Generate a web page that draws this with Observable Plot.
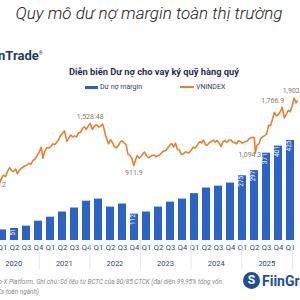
<!DOCTYPE html>
<html>
<head>
<meta charset="utf-8">
<script src="https://cdn.jsdelivr.net/npm/d3@7"></script>
<script src="https://cdn.jsdelivr.net/npm/@observablehq/plot@0.6"></script>
<style>
  html, body { margin: 0; padding: 0; background: #fff; }
  #root { position: relative; width: 300px; height: 300px; overflow: hidden; background: #fff; font-family: Roboto, "Noto Sans", sans-serif; }
  .abs { position: absolute; }
  #title { top: 3px; left: 0; width: 298px; text-align: center; font-style: italic; font-size: 17px; font-weight: 300; color: #1a1a1a; white-space: nowrap; }
  #logo { top: 48px; left: -16px; font-weight: 700; font-size: 13px; color: #1f3a6d; white-space: nowrap; }
  #logo sup { font-size: 5px; font-weight: 400; }
  #sub { top: 66px; left: 0; width: 308px; text-align: center; font-weight: 700; font-size: 9.3px; color: #1f2d5a; white-space: nowrap; }
  .leg { top: 83px; font-size: 7px; color: #2c3e6e; white-space: nowrap; display: flex; align-items: center; }
  .sw-bar { display: inline-block; width: 13px; height: 3px; background: #2b63c6; margin-right: 2px; }
  .sw-line { display: inline-block; width: 14px; height: 1.5px; background: #e8812f; margin-right: 2px; }
  #caption { top: 277px; left: -39px; width: 300px; font-style: italic; font-size: 6.4px; line-height: 10px; color: #8a8a8a; white-space: nowrap; }
  #fg { top: 272px; left: 243px; display: flex; align-items: center; white-space: nowrap; }
  #fg .ic { width: 17px; height: 17px; border-radius: 50%; background: #1d4f9c; color: #fff; font-weight: 700; font-size: 12px; text-align: center; line-height: 17px; margin-right: 2px; }
  #fg .tx { font-weight: 700; font-size: 14px; color: #1d4f9c; }
</style>
</head>
<body>
<div id="root">
  <div id="title" class="abs">Quy mô dư nợ margin toàn thị trường</div>
  <div id="logo" class="abs">FiinTrade<sup>®</sup></div>
  <div id="sub" class="abs">Diễn biến Dư nợ cho vay ký quỹ hàng quý</div>
  <div class="abs leg" style="left:85px"><span class="sw-bar"></span>Dư nợ margin</div>
  <div class="abs leg" style="left:180px"><span class="sw-line"></span>VNINDEX</div>
  <div id="bars" class="abs" style="top:0;left:0"></div>
  <div id="line" class="abs" style="top:0;left:0"></div>
  <div id="caption" class="abs">Nguồn: FiinPro-X Platform. Ghi chú: Số liệu từ BCTC của 80/85 CTCK (đại diện 99,95% tổng vốn<br><span style="margin-left:-19px">chủ sở hữu các CTCKs toàn ngành)</span></div>
  <div id="fg" class="abs"><div class="ic">S</div><div class="tx">FiinGroup</div></div>
</div>
<script>
// ---------- data ----------
const years = ["2020", "2021", "2022", "2023", "2024", "2025", "2026"];
const quarterNames = ["Q1", "Q2", "Q3", "Q4"];
// Dư nợ margin (nghìn tỷ đồng), Q1/2020 .. Q1/2026
const marginValues = [45, 51, 61, 82, 99, 121, 138, 167, 176, 142, 155, 112, 121, 142, 163, 176, 199, 223, 231, 244, 275, 297, 371, 401, 425];
// quarters whose bars carry a value label
const labeledQuarters = ["Q2 2020", "Q4 2022", "Q1 2025", "Q2 2025", "Q3 2025", "Q4 2025", "Q1 2026"];

// VNINDEX (readings)
const vnDates = ["2020-01-02","2020-01-31","2020-02-28","2020-03-13","2020-03-24","2020-04-03","2020-04-17","2020-05-04","2020-05-18","2020-06-01","2020-06-15","2020-06-30","2020-07-15","2020-07-27","2020-08-10","2020-08-24","2020-09-07","2020-09-21","2020-10-05","2020-10-19","2020-11-02","2020-11-16","2020-11-30","2020-12-14","2020-12-31",
"2021-01-15","2021-01-28","2021-02-10","2021-02-25","2021-03-10","2021-03-25","2021-04-08","2021-04-22","2021-05-06","2021-05-20","2021-06-03","2021-06-17","2021-07-02","2021-07-19","2021-08-02","2021-08-16","2021-08-30","2021-09-13","2021-09-27","2021-10-11","2021-10-25","2021-11-08","2021-11-22","2021-12-06","2021-12-20",
"2022-01-04","2022-01-18","2022-02-07","2022-02-21","2022-03-07","2022-03-21","2022-04-04","2022-04-15","2022-04-26","2022-05-16","2022-05-30","2022-06-13","2022-06-27","2022-07-11","2022-07-25","2022-08-08","2022-08-22","2022-09-06","2022-09-20","2022-10-03","2022-10-17","2022-10-31","2022-11-15","2022-11-28","2022-12-09","2022-12-23",
"2023-01-09","2023-01-30","2023-02-13","2023-02-27","2023-03-13","2023-03-27","2023-04-10","2023-04-24","2023-05-08","2023-05-22","2023-06-05","2023-06-19","2023-07-03","2023-07-17","2023-07-31","2023-08-14","2023-08-28","2023-09-11","2023-09-25","2023-10-09","2023-10-23","2023-11-06","2023-11-20","2023-12-04","2023-12-18",
"2024-01-02","2024-01-16","2024-01-31","2024-02-19","2024-03-04","2024-03-18","2024-03-29","2024-04-15","2024-04-26","2024-05-13","2024-05-27","2024-06-10","2024-06-24","2024-07-08","2024-07-22","2024-08-05","2024-08-19","2024-09-03","2024-09-16","2024-09-30","2024-10-14","2024-10-28","2024-11-11","2024-11-25","2024-12-09","2024-12-23",
"2025-01-06","2025-01-20","2025-02-10","2025-02-24","2025-03-10","2025-03-24","2025-04-02","2025-04-09","2025-04-21","2025-05-05","2025-05-19","2025-06-02","2025-06-16","2025-06-30","2025-07-14","2025-07-28","2025-08-11","2025-08-25","2025-09-08","2025-09-22","2025-10-06","2025-10-20","2025-11-04","2025-11-18","2025-12-02","2025-12-16","2025-12-31",
"2026-01-14","2026-01-28","2026-02-06"];
const vnValues = [961,914,880,770,659.2,720,770,750,830,880,840,825,860,790,840,870,890,910,920,945,930,985,1003,1045,1104,
1180,1020,1120,1175,1170,1185,1230,1215,1250,1285,1350,1380,1420,1270,1310,1360,1330,1345,1330,1390,1395,1450,1480,1440,1490,
1528.48,1440,1500,1505,1475,1490,1520,1440,1340,1230,1290,1250,1190,1170,1200,1255,1275,1245,1215,1080,1060,1015,911.9,1000,1060,1020,
1055,1110,1060,1025,1040,1060,1065,1040,1055,1070,1105,1125,1130,1170,1210,1235,1180,1240,1150,1140,1075,1080,1110,1105,1100,
1135,1180,1170,1220,1260,1245,1285,1215,1210,1250,1265,1285,1255,1280,1240,1190,1265,1280,1250,1285,1285,1255,1245,1230,1275,1260,
1240,1255,1270,1305,1320,1325,1320,1094.3,1210,1230,1310,1335,1350,1375,1500,1500,1590,1690,1640,1660,1700,1766.9,1610,1660,1720,1700,1785,
1902.6,1830,1860];

// annotated VNINDEX points
const annDates = ["2020-03-24", "2022-01-04", "2022-11-15", "2025-04-09", "2025-10-20", "2026-01-14"];
const annValues = [659.2, 1528.48, 911.9, 1094.3, 1766.9, 1902.6];
const annTexts = ["659.2", "1,528.48", "911.9", "1,094.3", "1,766.9", "1,902.6"];
const annPlace = ["left", "top", "bottom", "left", "topleft", "top"];

// ---------- tables ----------
const quarters = [];
years.forEach(y => quarterNames.forEach(q => quarters.push(q + " " + y)));
const qDomain = quarters.slice(0, marginValues.length);
const bars = qDomain.map((q, i) => ({q, v: marginValues[i]}));
const barLabels = bars.filter(d => labeledQuarters.includes(d.q));
const vn = vnDates.map((d, i) => ({date: new Date(d), v: vnValues[i]}));
const ann = annDates.map((d, i) => ({date: new Date(d), v: annValues[i], t: annTexts[i], p: annPlace[i]}));
const yearStarts = years.map(y => new Date(y + "-01-01"));
const yearMids = years.map(y => ({date: new Date(y + "-07-01"), t: y}));

const W = 300, H = 300;
const xRange = [-12, 304.3];
const navy = "#34457a";

// ---------- bars + quarter axis ----------
const barPlot = Plot.plot({
  width: W, height: H,
  marginTop: 0, marginLeft: 0, marginRight: 0, marginBottom: 60,
  style: {background: "transparent", fontFamily: "Roboto, sans-serif", overflow: "hidden"},
  x: {type: "band", domain: qDomain, range: xRange, paddingInner: 0.3, paddingOuter: 0.15, label: null},
  y: {domain: [0, 600], range: [240, 98.8], axis: null, label: null},
  marks: [
    Plot.barY(bars, {x: "q", y: "v", fill: "#2b63c6"}),
    Plot.text(barLabels, {x: "q", y: "v", text: d => String(d.v), rotate: -90, textAnchor: "end", lineAnchor: "middle", dx: -2, fill: "#fff", fontSize: 6.5}),
    Plot.axisX({tickSize: 0, tickPadding: 4, tickFormat: d => d.slice(0, 2), fontSize: 7.5, color: navy, label: null})
  ]
});
document.getElementById("bars").appendChild(barPlot);

// ---------- VNINDEX line, year axis ----------
const lineColor = "#e8812f";
const annColor = "#8b7565";
const linePlot = Plot.plot({
  width: W, height: H,
  marginTop: 0, marginLeft: 0, marginRight: 0, marginBottom: 0,
  style: {background: "transparent", fontFamily: "Roboto, sans-serif", overflow: "hidden"},
  x: {type: "utc", domain: [new Date("2020-01-01"), new Date("2026-04-01")], range: xRange, axis: null},
  y: {domain: [600, 2000], range: [186.3, 90.8], axis: null},
  marks: [
    Plot.ruleX(yearStarts, {x: d => d, stroke: "#e3e6ec", strokeWidth: 1, insetTop: 240, insetBottom: 31}),
    Plot.text(yearMids, {x: "date", text: "t", frameAnchor: "bottom", dy: -35, fill: navy, fontSize: 7.5}),
    Plot.line(vn, {x: "date", y: "v", stroke: lineColor, strokeWidth: 1.6, curve: "linear"}),
    Plot.text(ann.filter(d => d.p === "top"), {x: "date", y: "v", text: "t", dy: -7, fill: annColor, fontSize: 7}),
    Plot.text(ann.filter(d => d.p === "bottom"), {x: "date", y: "v", text: "t", dy: 7, fill: annColor, fontSize: 7}),
    Plot.text(ann.filter(d => d.p === "left"), {x: "date", y: "v", text: "t", textAnchor: "end", dx: 6, dy: 2, fill: annColor, fontSize: 7}),
    Plot.text(ann.filter(d => d.p === "topleft"), {x: "date", y: "v", text: "t", textAnchor: "end", dx: 2, dy: -6, fill: annColor, fontSize: 7})
  ]
});
document.getElementById("line").appendChild(linePlot);
</script>
</body>
</html>
